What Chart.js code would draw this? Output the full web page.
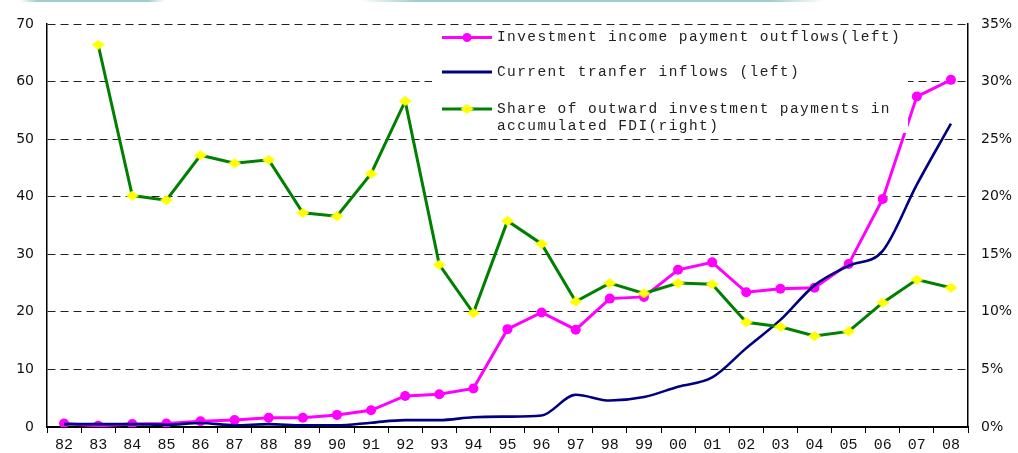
<!DOCTYPE html>
<html><head><meta charset="utf-8">
<script src="https://cdn.jsdelivr.net/npm/chart.js@4"></script>
<style>html,body{margin:0;padding:0;background:#fff;}canvas{display:block;}</style>
</head><body>
<canvas id="c" width="1018" height="453"></canvas>
<script>
const years = ['82','83','84','85','86','87','88','89','90','91','92','93','94','95','96','97','98','99','00','01','02','03','04','05','06','07','08'];
const investmentIncome = [0.6,0.2,0.5,0.6,1.0,1.2,1.6,1.6,2.1,2.9,5.4,5.7,6.7,17.0,19.9,16.9,22.3,22.6,27.3,28.6,23.4,24.0,24.2,28.3,39.6,57.4,60.3];
const currentTransfer = [0.5,0.5,0.5,0.4,0.7,0.3,0.5,0.3,0.3,0.75,1.2,1.2,1.7,1.8,2.0,5.6,4.6,5.2,7.0,8.6,13.7,18.6,24.6,28.0,30.6,42.1,52.7];
const shareOutward = [null,33.2,20.1,19.7,23.6,22.9,23.2,18.6,18.3,22.0,28.3,14.1,9.9,17.9,15.9,10.9,12.5,11.6,12.5,12.4,9.1,8.7,7.9,8.3,10.8,12.8,12.1];
const legendLabels = [
  ['Investment income payment outflows(left)'],
  ['Current tranfer inflows (left)'],
  ['Share of outward investment payments in','accumulated FDI(right)']
];

const PINK = '#ff00ff', NAVY = '#000080', GREEN = '#008000', YELLOW = '#ffff00';

function makeDiamond(w, h) {
  const cv = document.createElement('canvas');
  cv.width = w; cv.height = h;
  const c = cv.getContext('2d');
  c.fillStyle = YELLOW;
  c.beginPath();
  c.moveTo(w/2, 0); c.lineTo(w, h/2); c.lineTo(w/2, h); c.lineTo(0, h/2);
  c.closePath(); c.fill();
  return cv;
}
const diamond = makeDiamond(13, 10);

function band(ctx, x0, x1) {
  const g = ctx.createLinearGradient(x0, 0, x1, 0);
  g.addColorStop(0, 'rgba(160,205,205,0)');
  g.addColorStop(0.12, 'rgba(160,205,205,1)');
  g.addColorStop(0.88, 'rgba(160,205,205,1)');
  g.addColorStop(1, 'rgba(160,205,205,0)');
  ctx.fillStyle = g;
  ctx.fillRect(x0, 0, x1 - x0, 2);
}

const overlay = {
  id: 'overlay',
  beforeDraw(chart) {
    const ctx = chart.ctx;
    ctx.save();
    band(ctx, 20, 165);
    band(ctx, 360, 825);
    ctx.restore();
  },
  afterDatasetsDraw(chart) {
    const ctx = chart.ctx;
    ctx.save();
    ctx.fillStyle = '#fff';
    ctx.fillRect(432, 27, 476, 106);
    const rows = [
      {y: 37.5, color: PINK, width: 3, marker: 'circle'},
      {y: 72, color: NAVY, width: 3, marker: null},
      {y: 109, color: GREEN, width: 3, marker: 'diamond'}
    ];
    rows.forEach((r, i) => {
      ctx.strokeStyle = r.color;
      ctx.lineWidth = r.width;
      ctx.beginPath();
      ctx.moveTo(442, r.y); ctx.lineTo(492, r.y);
      ctx.stroke();
      if (r.marker === 'circle') {
        ctx.fillStyle = PINK;
        ctx.beginPath(); ctx.arc(467, r.y, 4.5, 0, Math.PI*2); ctx.fill();
      } else if (r.marker === 'diamond') {
        ctx.drawImage(diamond, 467 - 6.5, r.y - 5);
      }
      ctx.fillStyle = '#222';
      ctx.font = '14.5px "Liberation Mono"';
      ctx.letterSpacing = '1.4px';
      ctx.textBaseline = 'middle';
      ctx.textAlign = 'left';
      legendLabels[i].forEach((t, j) => ctx.fillText(t, 497, r.y + j * 16.7));
    });
    ctx.restore();
  }
};

new Chart(document.getElementById('c'), {
  type: 'line',
  data: {
    labels: years,
    datasets: [
      {
        label: legendLabels[0][0], data: investmentIncome, yAxisID: 'y', order: 2,
        borderColor: PINK, backgroundColor: PINK, borderWidth: 3, tension: 0,
        pointRadius: 5, pointBorderWidth: 0, pointBackgroundColor: PINK, pointStyle: 'circle'
      },
      {
        label: legendLabels[1][0], data: currentTransfer, yAxisID: 'y', order: 1,
        borderColor: NAVY, backgroundColor: NAVY, borderWidth: 2.6,
        cubicInterpolationMode: 'monotone', pointRadius: 0
      },
      {
        label: legendLabels[2].join(' '), data: shareOutward, yAxisID: 'y2', order: 0,
        borderColor: GREEN, backgroundColor: YELLOW, borderWidth: 3, tension: 0,
        pointRadius: 6, pointStyle: diamond, spanGaps: false
      }
    ]
  },
  options: {
    responsive: false,
    animation: false,
    devicePixelRatio: 1,
    layout: {padding: {top: 24, left: 0, right: 0, bottom: 0}},
    plugins: {legend: {display: false}, tooltip: {enabled: false}},
    scales: {
      x: {
        type: 'category', offset: true,
        grid: {offset: true, drawOnChartArea: false, drawTicks: true, tickLength: 6, color: '#000', lineWidth: 1},
        border: {display: true, color: '#000', width: 2},
        ticks: {autoSkip: false, maxRotation: 0, minRotation: 0, padding: 3, color: '#111', font: {family: 'Liberation Mono', size: 15}},
        afterFit(s) { s.height = 26; }
      },
      y: {
        position: 'left', min: 0, max: 70,
        ticks: {stepSize: 10, padding: 13, color: '#111', font: {family: 'DejaVu Sans', size: 14}},
        grid: {color: '#222', lineWidth: 1, drawTicks: false},
        border: {display: true, color: '#000', width: 1.5, dash: [8, 5]},
        afterFit(s) { s.width = 47; }
      },
      y2: {
        position: 'right', min: 0, max: 35,
        ticks: {stepSize: 5, padding: 13, color: '#111', font: {family: 'DejaVu Sans', size: 14}, callback: v => v + '%'},
        grid: {drawOnChartArea: false, drawTicks: false},
        border: {display: true, color: '#000', width: 1.5},
        afterFit(s) { s.width = 50; }
      }
    }
  },
  plugins: [overlay]
});
</script>
</body></html>
